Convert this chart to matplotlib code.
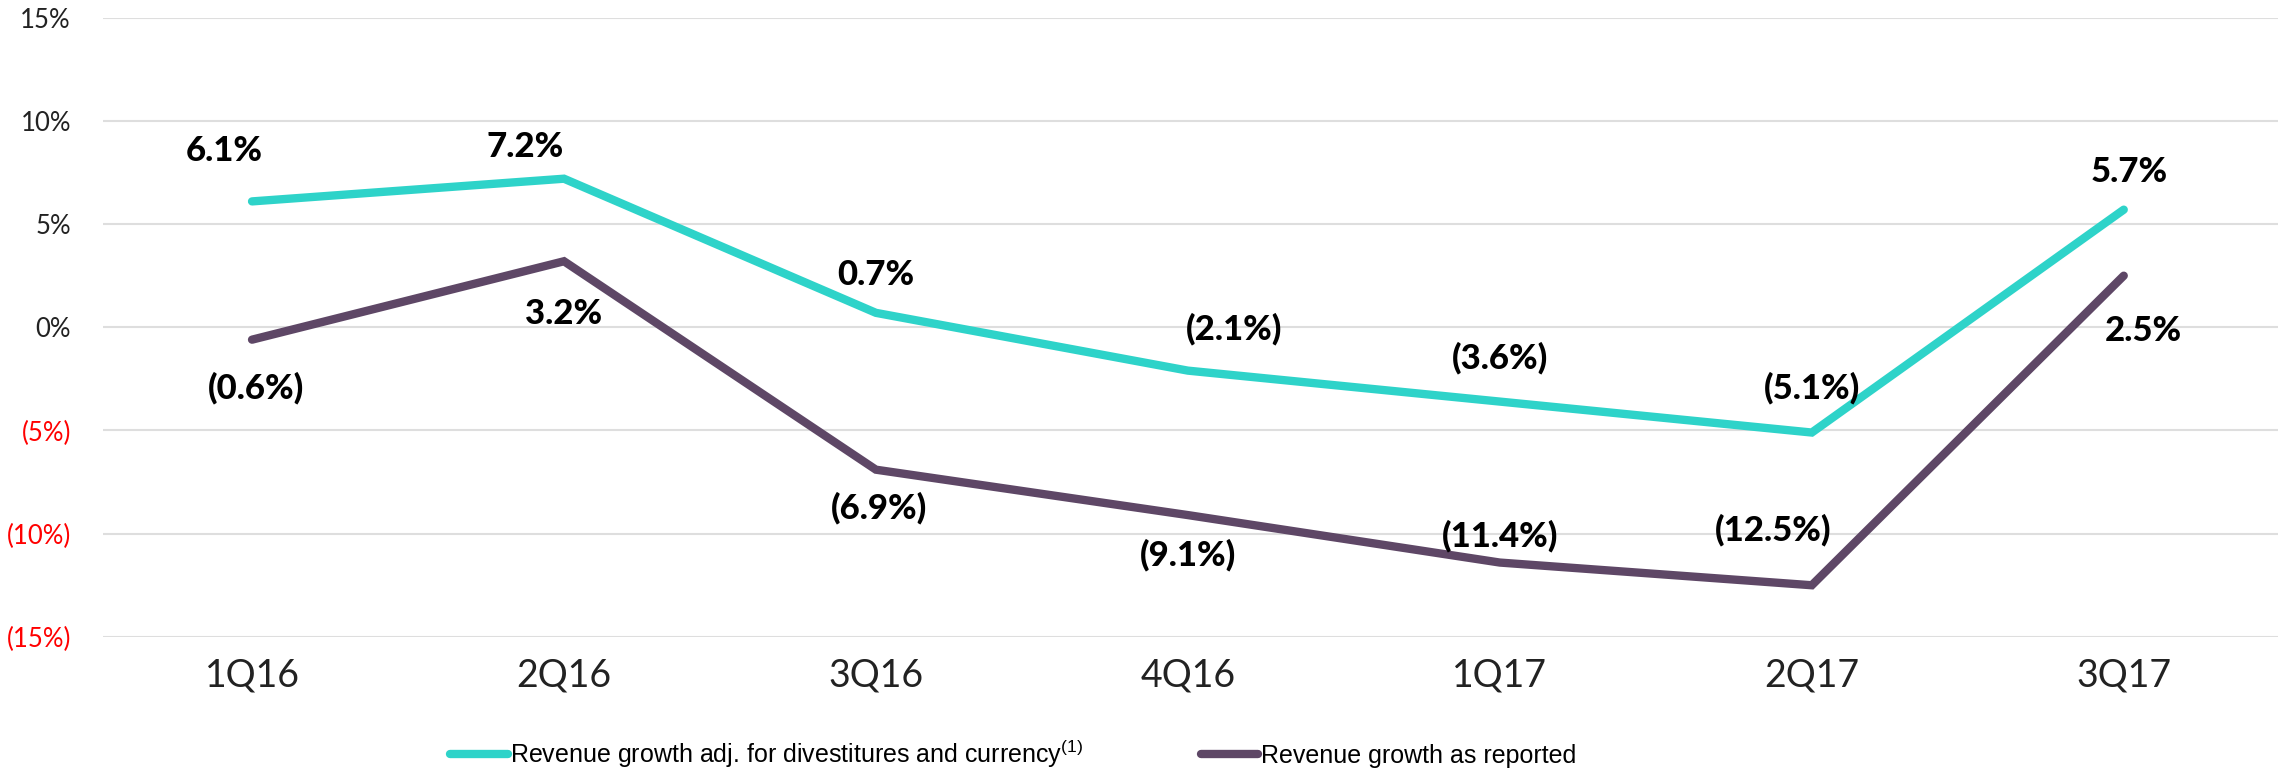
import matplotlib
matplotlib.use('Agg')
import matplotlib.pyplot as plt
from matplotlib.transforms import ScaledTranslation

plt.rcParams['mathtext.fontset'] = 'custom'
plt.rcParams['mathtext.rm'] = 'Liberation Sans'

quarters = ['1Q16', '2Q16', '3Q16', '4Q16', '1Q17', '2Q17', '3Q17']
adj_growth = [6.1, 7.2, 0.7, -2.1, -3.6, -5.1, 5.7]
reported_growth = [-0.6, 3.2, -6.9, -9.1, -11.4, -12.5, 2.5]
y_ticks = [15, 10, 5, 0, -5, -10, -15]

adj_color = '#2ED3C9'
rep_color = '#5E4766'

# label offsets in points (dx, dy) from each point
adj_offsets = [(-20, 36), (-28, 23), (0, 27), (33, 30), (0, 31), (0, 32), (4, 27)]
rep_offsets = [(3, -35), (0, -38), (2, -28), (0, -29), (0, 19), (-28, 40), (14, -40)]


def fmt(v):
    return f'({abs(v):.1f}%)' if v < 0 else f'{v:.1f}%'


fig = plt.figure(figsize=(22.87, 7.71), dpi=100)
ax = fig.add_axes([0.045, 0.174, 0.951, 0.803])

x = list(range(len(quarters)))
ax.plot(x, adj_growth, color=adj_color, lw=6, solid_capstyle='round', solid_joinstyle='miter',
        label='Revenue growth adj. for divestitures and currency$^{(1)}$', zorder=3)
ax.plot(x, reported_growth, color=rep_color, lw=6, solid_capstyle='round', solid_joinstyle='miter',
        label='Revenue growth as reported', zorder=3)

for xi, v, off in zip(x, adj_growth, adj_offsets):
    ax.annotate(fmt(v), (xi, v), xytext=off, textcoords='offset points', ha='center', va='center',
                fontsize=25, fontweight='black', family=['Lato', 'DejaVu Sans'])
for xi, v, off in zip(x, reported_growth, rep_offsets):
    ax.annotate(fmt(v), (xi, v), xytext=off, textcoords='offset points', ha='center', va='center',
                fontsize=25, fontweight='black', family=['Lato', 'DejaVu Sans'])

ax.set_xlim(-0.478, 6.494)
ax.set_ylim(-15, 15)
ax.set_xticks(x)
ax.set_xticklabels(quarters, fontsize=27, family=['Lato', 'DejaVu Sans'], color='#222222')
ax.set_yticks(y_ticks)
ax.set_yticklabels([fmt(t).replace('.0', '') for t in y_ticks], fontsize=18.5,
                   family=['Lato', 'DejaVu Sans'])
shift = ScaledTranslation(7 / 100, 0, fig.dpi_scale_trans)
for lbl, t in zip(ax.get_yticklabels(), y_ticks):
    if t < 0:
        lbl.set_color('#FF0000')
        lbl.set_transform(lbl.get_transform() + shift)
    else:
        lbl.set_color('#222222')

ax.tick_params(length=0)
ax.tick_params(axis='x', pad=15)
ax.tick_params(axis='y', pad=23)
ax.grid(axis='y', color='#dedede', lw=1.5)
ax.set_axisbelow(True)
for s in ax.spines.values():
    s.set_visible(False)

fig.legend(loc='center left', bbox_to_anchor=(0.1968, 0.022), ncol=2, frameon=False,
           prop={'family': ['Liberation Sans', 'DejaVu Sans'], 'size': 18},
           handlelength=2.3, handletextpad=0.1, columnspacing=4.7,
           borderpad=0, borderaxespad=0)

fig.savefig('out.png', dpi=100)
